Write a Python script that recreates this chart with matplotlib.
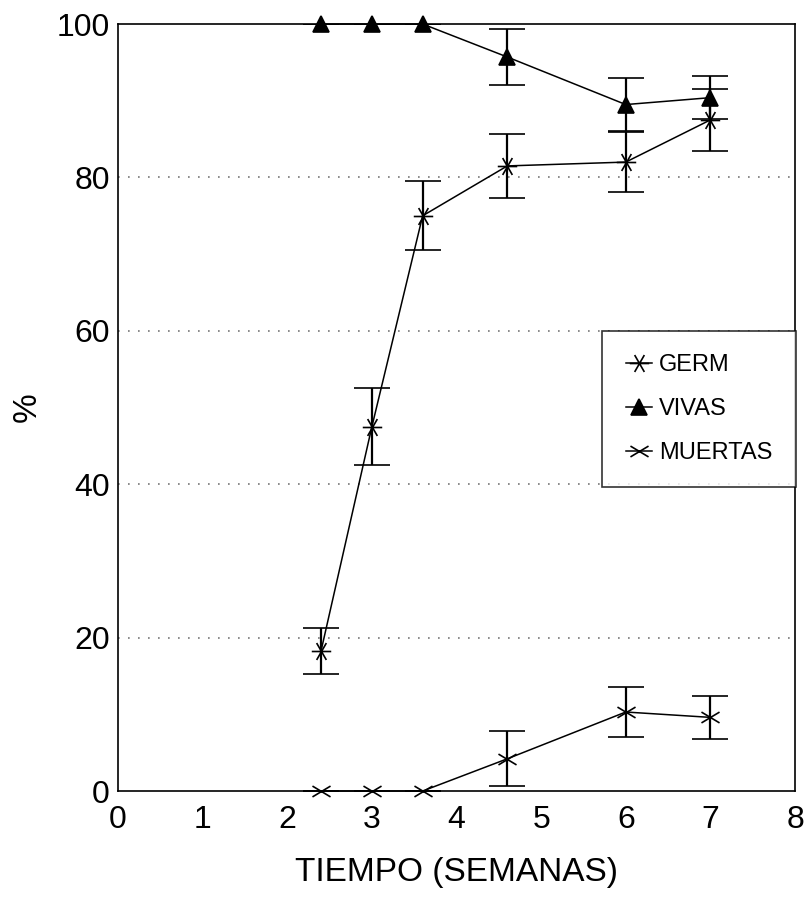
import matplotlib
matplotlib.use("Agg")
from matplotlib import pyplot as plt
from matplotlib.lines import Line2D
from matplotlib.path import Path

plt.rcParams['font.family'] = ['Liberation Sans', 'DejaVu Sans']

semanas = [2.4, 3.0, 3.6, 4.6, 6.0, 7.0]

germ = [18.3, 47.5, 75.0, 81.5, 82.0, 87.5]
germ_err = [3.0, 5.0, 4.5, 4.2, 3.9, 4.0]

vivas = [100.0, 100.0, 100.0, 95.7, 89.5, 90.4]
vivas_err = [0.0, 0.0, 0.0, 3.6, 3.5, 2.8]

muertas = [0.0, 0.0, 0.0, 4.2, 10.3, 9.6]
muertas_err = [0.0, 0.0, 0.0, 3.6, 3.3, 2.8]

xticks = [0, 1, 2, 3, 4, 5, 6, 7, 8]
yticks = [0, 20, 40, 60, 80, 100]
labels = ['GERM', 'VIVAS', 'MUERTAS']

seg = [Path.MOVETO, Path.LINETO]
# asterisk with a horizontal arm for GERM
star_h = Path([(-1, 0), (1, 0), (-0.5, -0.87), (0.5, 0.87),
               (-0.5, 0.87), (0.5, -0.87)], seg * 3)
# flat "x" used for MUERTAS
flat_x = Path([(-1, -0.6), (1, 0.6), (-1, 0.6), (1, -0.6)], seg * 2)
marks = [star_h, '^', flat_x]
msizes = [14, 11, 13]

fig = plt.figure(figsize=(8.06, 9.0), dpi=100)
ax = fig.add_axes([0.1464, 0.1211, 0.84, 0.8522])

err_kw = dict(ecolor='black', elinewidth=1.6, capsize=13, capthick=1.6)

handles = []
for vals, errs, m, ms, lab in zip([germ, vivas, muertas],
                                  [germ_err, vivas_err, muertas_err],
                                  marks, msizes, labels):
    cont = ax.errorbar(semanas, vals, yerr=errs, color='black', lw=1.1,
                       marker=m, markersize=ms, mew=1.2, **err_kw)
    cont.lines[0].set_clip_on(False)
    handles.append(Line2D([], [], color='black', lw=1.1, marker=m,
                          markersize=ms, mew=1.2, label=lab))

for y in [20, 40, 60, 80]:
    ax.axhline(y, color='#777777', lw=1.2, linestyle=(0, (1, 5)), zorder=0)

ax.set_xlim(0, 8)
ax.set_ylim(0, 100)
ax.set_xticks(xticks)
ax.set_yticks(yticks)
ax.tick_params(axis='both', length=0, labelsize=23)
ax.tick_params(axis='x', pad=10)
ax.tick_params(axis='y', pad=6)
for s in ax.spines.values():
    s.set_linewidth(1.2)

ax.set_xlabel('TIEMPO (SEMANAS)', fontsize=24, labelpad=16)
ax.set_ylabel('%', fontsize=24, labelpad=10)

leg = ax.legend(handles=handles, loc='upper left',
                bbox_to_anchor=(0.715, 0.600), borderaxespad=0, fontsize=17,
                frameon=True, fancybox=False, edgecolor='black',
                handlelength=1.1, handletextpad=0.3, labelspacing=0.92,
                borderpad=1.0)
leg.get_frame().set_linewidth(1.2)

fig.savefig('out.png', dpi=100)
